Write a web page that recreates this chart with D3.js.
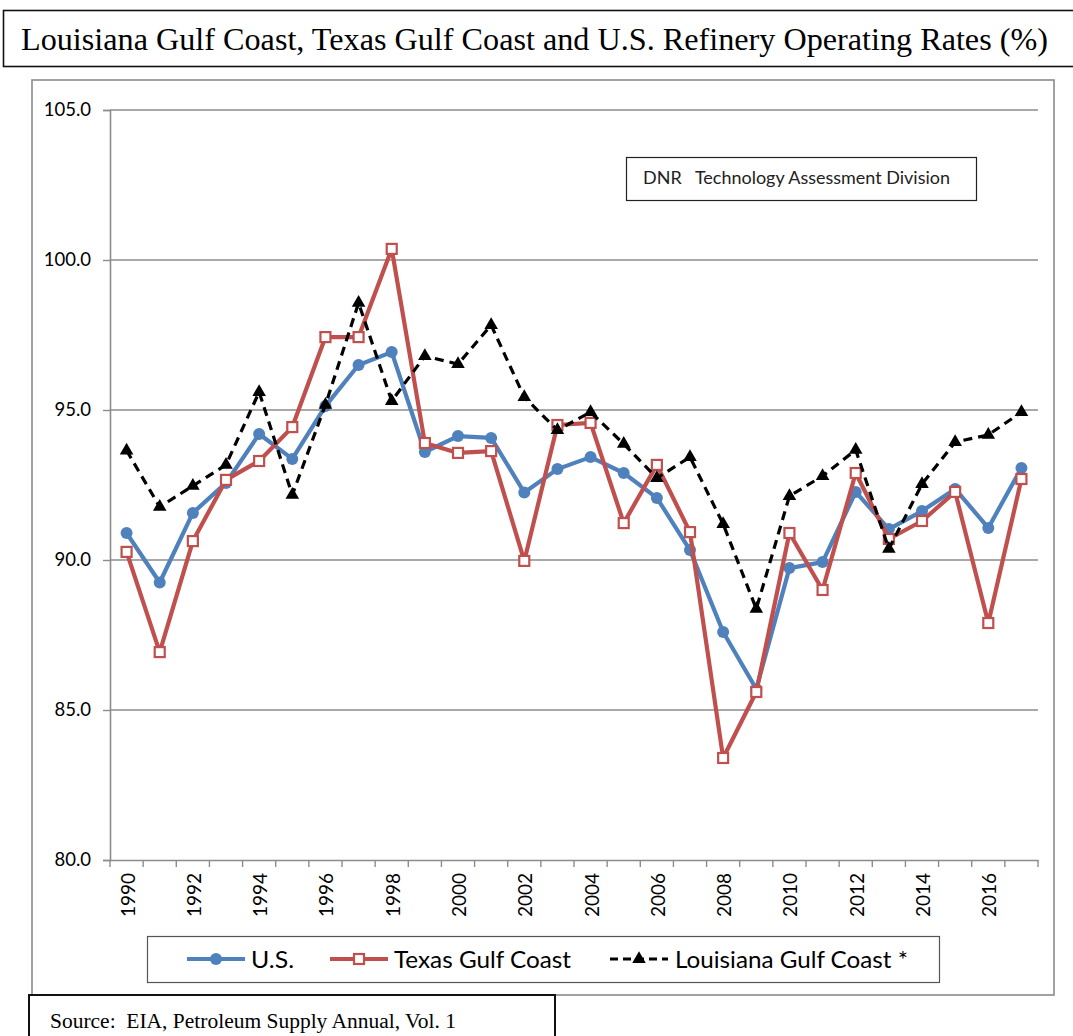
<!DOCTYPE html>
<html><head><meta charset="utf-8">
<script src="https://cdn.jsdelivr.net/npm/d3@7"></script>
<style>
html,body{margin:0;padding:0;background:#fff;}
svg{display:block;}
</style></head>
<body>
<svg id="chart" width="1073" height="1036"></svg>
<script>
const years = [1990,1991,1992,1993,1994,1995,1996,1997,1998,1999,2000,2001,2002,2003,2004,2005,2006,2007,2008,2009,2010,2011,2012,2013,2014,2015,2016,2017];
const usRates = [90.9,89.25,91.57,92.57,94.2,93.37,95.13,96.5,96.93,93.6,94.13,94.07,92.25,93.03,93.43,92.9,92.07,90.33,87.6,85.7,89.73,89.93,92.27,91.03,91.63,92.37,91.07,93.07];
const texasRates = [90.27,86.93,90.63,92.67,93.3,94.43,97.43,97.43,100.37,93.9,93.57,93.63,89.97,94.5,94.57,91.23,93.17,90.93,83.4,85.6,90.9,89.0,92.9,90.7,91.3,92.27,87.9,92.7];
const louisianaRates = [93.65,91.77,92.47,93.17,95.6,92.17,95.17,98.57,95.3,96.8,96.53,97.83,95.43,94.33,94.93,93.87,92.73,93.43,91.2,88.37,92.13,92.8,93.67,90.37,92.53,93.93,94.17,94.93];
const yTicks = [80,85,90,95,100,105];
const seriesNames = ["U.S.","Texas Gulf Coast","Louisiana Gulf Coast *"];
const titleText = "Louisiana Gulf Coast, Texas Gulf Coast and U.S. Refinery Operating Rates (%)";
const sourceText = "Source:  EIA, Petroleum Supply Annual, Vol. 1";
const noteText = "DNR   Technology Assessment Division";

(function(){
const svg = d3.select("#chart");
const sans = "Lato, 'Open Sans', sans-serif";
const serif = "'Liberation Serif', 'Times New Roman', serif";

// title box
svg.append("rect").attr("x",3.5).attr("y",10.5).attr("width",1075).attr("height",56)
  .attr("fill","#fff").attr("stroke","#111").attr("stroke-width",1.6);
svg.append("text").attr("x",21).attr("y",50)
  .attr("font-family",serif).attr("font-size",31).attr("fill","#000")
  .attr("textLength",1027).attr("lengthAdjust","spacingAndGlyphs").text(titleText);

// outer chart box
svg.append("rect").attr("x",32).attr("y",80).attr("width",1022).attr("height",915)
  .attr("fill","#fff").attr("stroke","#8a8a8a").attr("stroke-width",1.6);

const pL=110, pR=1038, pT=110, pB=860;
const x = d3.scaleBand().domain(years).range([pL,pR]);
const y = d3.scaleLinear().domain([80,105]).range([pB,pT]);

// gridlines
svg.append("g").selectAll("line").data(yTicks.filter(d=>d>80)).join("line")
  .attr("x1",pL).attr("x2",pR).attr("y1",d=>y(d)).attr("y2",d=>y(d))
  .attr("stroke","#8c8c8c").attr("stroke-width",1.6);

// y axis
const yAxis = svg.append("g").attr("transform",`translate(${pL},0)`)
  .call(d3.axisLeft(y).tickValues(yTicks).tickFormat(d3.format(".1f")).tickSize(7).tickPadding(12));
yAxis.select(".domain").attr("stroke","#8c8c8c").attr("stroke-width",1.6);
yAxis.selectAll(".tick line").attr("stroke","#8c8c8c").attr("stroke-width",1.4);
yAxis.selectAll("text").attr("font-family",sans).attr("font-size",18.5).attr("fill","#000");

// x axis
const xAxis = svg.append("g").attr("transform",`translate(0,${pB})`)
  .call(d3.axisBottom(x).tickValues([]).tickSize(0));
xAxis.select(".domain").attr("stroke","#8c8c8c").attr("stroke-width",1.6);
const bounds = years.map(d=>x(d)).concat([pR]);
svg.append("g").selectAll("line").data(bounds).join("line")
  .attr("x1",d=>d).attr("x2",d=>d).attr("y1",pB).attr("y2",pB+7)
  .attr("stroke","#8c8c8c").attr("stroke-width",1.4);
svg.append("g").selectAll("text").data(years.filter((d,i)=>i%2===0)).join("text")
  .attr("transform",d=>`translate(${x(d)+x.bandwidth()/2+8},${pB+13}) rotate(-90)`)
  .attr("text-anchor","end").attr("font-family",sans).attr("font-size",19).attr("fill","#000")
  .text(d=>d);

const cx = d=>x(d)+x.bandwidth()/2;
const blue="#4f81bd", red="#c0504d";

function drawLine(vals,color,w,dash){
  const line = d3.line().x((v,i)=>cx(years[i])).y(v=>y(v));
  svg.append("path").datum(vals).attr("d",line).attr("fill","none")
    .attr("stroke",color).attr("stroke-width",w).attr("stroke-linejoin","round")
    .attr("stroke-dasharray",dash||null);
}
drawLine(usRates,blue,4.2);
svg.append("g").selectAll("circle").data(usRates).join("circle")
  .attr("cx",(v,i)=>cx(years[i])).attr("cy",v=>y(v)).attr("r",6).attr("fill",blue);

drawLine(texasRates,red,4.2);
svg.append("g").selectAll("rect").data(texasRates).join("rect")
  .attr("x",(v,i)=>cx(years[i])-5).attr("y",v=>y(v)-5).attr("width",10).attr("height",10)
  .attr("fill","#fff").attr("stroke",red).attr("stroke-width",2.2);

drawLine(louisianaRates,"#000",3.2,"9,6");
const tri = d3.symbol().type(d3.symbolTriangle).size(80);
svg.append("g").selectAll("path").data(louisianaRates).join("path")
  .attr("transform",(v,i)=>`translate(${cx(years[i])},${y(v)})`).attr("d",tri).attr("fill","#000");

// note box
svg.append("rect").attr("x",626.5).attr("y",157.5).attr("width",350).attr("height",43)
  .attr("fill","#fff").attr("stroke","#222").attr("stroke-width",1.2);
svg.append("text").attr("x",643).attr("y",184).attr("font-family",sans).attr("font-size",17.5)
  .attr("fill","#222").attr("xml:space","preserve").style("white-space","pre")
  .attr("textLength",307).attr("lengthAdjust","spacingAndGlyphs").text(noteText);

// legend
svg.append("rect").attr("x",147.5).attr("y",936.5).attr("width",792).attr("height",46)
  .attr("fill","#fff").attr("stroke","#555").attr("stroke-width",1.2);
const ly = 959;
const lg = svg.append("g");
const legendItems = [
  {name:seriesNames[0], x0:187, color:blue, w:4.2, dash:null, tx:251, tl:43},
  {name:seriesNames[1], x0:330, color:red, w:4.2, dash:null, tx:394, tl:177},
  {name:seriesNames[2], x0:610, color:"#000", w:3.2, dash:"8,5", tx:675, tl:233}
];
legendItems.forEach((it,k)=>{
  lg.append("line").attr("x1",it.x0).attr("x2",it.x0+58).attr("y1",ly).attr("y2",ly)
    .attr("stroke",it.color).attr("stroke-width",it.w).attr("stroke-dasharray",it.dash);
  const mx = it.x0+29;
  if(k===0) lg.append("circle").attr("cx",mx).attr("cy",ly).attr("r",6).attr("fill",blue);
  if(k===1) lg.append("rect").attr("x",mx-5).attr("y",ly-5).attr("width",10).attr("height",10).attr("fill","#fff").attr("stroke",red).attr("stroke-width",2.2);
  if(k===2) lg.append("path").attr("transform",`translate(${mx},${ly})`).attr("d",tri).attr("fill","#000");
  lg.append("text").attr("x",it.tx).attr("y",ly+8.5).attr("font-family",sans).attr("font-size",23)
    .attr("fill","#000").attr("textLength",it.tl).attr("lengthAdjust","spacingAndGlyphs").text(it.name);
});

// source box
svg.append("rect").attr("x",29).attr("y",995).attr("width",526).attr("height",60)
  .attr("fill","#fff").attr("stroke","#111").attr("stroke-width",2);
svg.append("text").attr("x",50).attr("y",1028).attr("font-family",serif).attr("font-size",20.5)
  .attr("fill","#000").attr("xml:space","preserve").style("white-space","pre")
  .attr("textLength",406).attr("lengthAdjust","spacingAndGlyphs").text(sourceText);
})();
</script>
</body></html>
